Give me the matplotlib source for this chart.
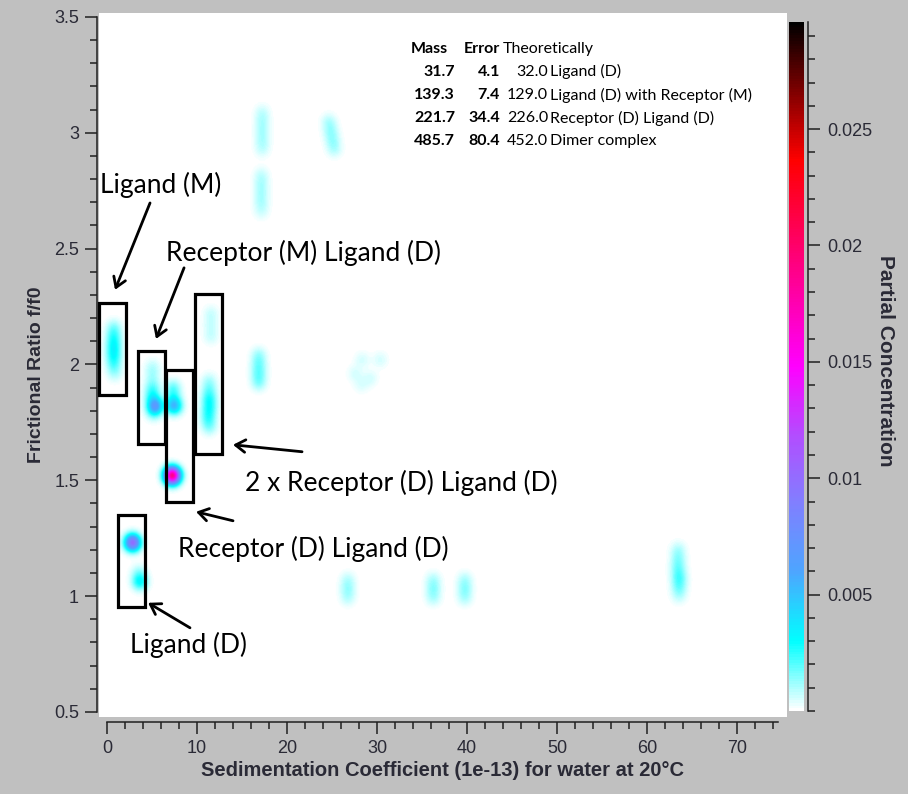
import numpy as np
import matplotlib.pyplot as plt
from matplotlib.colors import LinearSegmentedColormap, Normalize
from matplotlib.patches import Rectangle
from matplotlib.ticker import MultipleLocator

# --- solutes: s (1e-13), f/f0, partial concentration ---
sed = [0.7, 0.7, 0.7, 0.7, 0.7, 0.8,
       5.0, 5.0, 5.0, 5.0, 5.3, 5.1,
       7.3, 7.3, 7.4, 7.2,
       11.5, 11.5, 11.5, 11.3, 11.3, 11.3, 11.3, 11.2, 11.3,
       2.8, 3.6, 3.5,
       17.2, 17.2, 17.2, 17.2, 17.2, 17.1, 17.1, 17.1, 17.1, 17.1,
       24.6, 24.8, 25.0, 25.2,
       16.8, 16.8, 16.8, 16.8,
       27.5, 28.3, 29.2, 30.3, 28.2,
       26.7, 26.7, 26.7, 36.2, 36.2, 36.2, 39.7, 39.7, 39.7,
       63.4, 63.4, 63.4, 63.5, 63.5, 63.5]
ff0 = [2.16, 2.12, 2.08, 2.04, 2.00, 1.96,
       1.99, 1.95, 1.90, 1.86, 1.82, 1.79,
       1.90, 1.86, 1.82, 1.52,
       2.22, 2.17, 2.12, 1.93, 1.89, 1.85, 1.81, 1.77, 1.73,
       1.23, 1.06, 1.10,
       3.09, 3.05, 3.01, 2.97, 2.93, 2.82, 2.78, 2.74, 2.70, 2.66,
       3.05, 3.01, 2.97, 2.93,
       2.04, 2.00, 1.96, 1.92,
       1.96, 2.02, 1.94, 2.02, 1.91,
       1.07, 1.03, 0.99, 1.07, 1.03, 0.99, 1.07, 1.03, 0.99,
       1.20, 1.16, 1.12, 1.08, 1.04, 1.00]
conc = [0.0012, 0.0018, 0.0022, 0.0022, 0.0015, 0.0008,
        0.0007, 0.0008, 0.0015, 0.002, 0.006, 0.001,
        0.0015, 0.0015, 0.005, 0.019,
        0.0006, 0.0006, 0.0006, 0.0008, 0.0012, 0.002, 0.002, 0.0018, 0.0012,
        0.010, 0.003, 0.001,
        0.0006, 0.0007, 0.0007, 0.0007, 0.0006, 0.0006, 0.0007, 0.0007, 0.0007, 0.0005,
        0.0008, 0.0009, 0.0009, 0.0008,
        0.001, 0.0012, 0.0013, 0.0012,
        0.0005, 0.0005, 0.0005, 0.0005, 0.0004,
        0.0007, 0.0009, 0.0007, 0.0008, 0.001, 0.0008, 0.0008, 0.001, 0.0008,
        0.0008, 0.001, 0.0012, 0.0016, 0.0013, 0.0007]

# table of fitted species
masses = [31.7, 139.3, 221.7, 485.7]
errors = [4.1, 7.4, 34.4, 80.4]
theory = [32.0, 129.0, 226.0, 452.0]
species = ['Ligand (D)', 'Ligand (D) with Receptor (M)',
           'Receptor (D) Ligand (D)', 'Dimer complex']

cbar_ticks = [0.005, 0.01, 0.015, 0.02, 0.025]
cbar_labels = ['0.005', '0.01', '0.015', '0.02', '0.025']

# boxes drawn around the groups: (s0, s1, f0, f1)
boxes = [(-0.94, 2.11, 1.869, 2.266),
         (3.44, 6.44, 1.657, 2.058),
         (6.56, 9.56, 1.407, 1.977),
         (9.78, 12.78, 1.614, 2.305),
         (1.22, 4.22, 0.954, 1.351)]
# label text, label position, arrow tail, arrow head
notes = [('Ligand (M)', (-0.78, 2.775), (4.78, 2.697), (0.89, 2.322)),
         ('Receptor (M) Ligand (D)', (6.56, 2.481), (8.56, 2.417), (5.44, 2.110)),
         ('2 x Receptor (D) Ligand (D)', (15.33, 1.489), (21.67, 1.623), (14.0, 1.653)),
         ('Receptor (D) Ligand (D)', (7.89, 1.204), (14.0, 1.325), (9.89, 1.364)),
         ('Ligand (D)', (2.56, 0.790), (9.22, 0.863), (4.56, 0.971))]

XLIM = (-0.89, 75.44)
YLIM = (0.478, 3.517)
VMAX = 0.0296

GRAY = '#c0c0c0'
INK = '#2a2a36'
AXFONT = ['Liberation Sans Narrow', 'Liberation Sans', 'DejaVu Sans']
TICKFONT = ['Liberation Sans', 'DejaVu Sans']
NOTEFONT = ['Lato', 'Open Sans', 'DejaVu Sans']

cmap = LinearSegmentedColormap.from_list('ultrascan', [
    (0.0, (1, 1, 1)),
    (0.1, (0, 1, 1)),
    (0.2, (0.3, 0.65, 1)),
    (0.3, (0.5, 0.5, 1)),
    (0.4, (0.7, 0.3, 1)),
    (0.5, (1, 0, 1)),
    (0.65, (1, 0, 0.5)),
    (0.8, (1, 0, 0)),
    (1.0, (0, 0, 0))])

fig = plt.figure(figsize=(9.08, 7.94), dpi=100, facecolor=GRAY)
ax = fig.add_axes([99 / 908, 77 / 794, 687 / 908, 704 / 794])
ax.set_facecolor('white')

# blurred solute map
gs = np.linspace(XLIM[0], XLIM[1], 700)
gf = np.linspace(YLIM[0], YLIM[1], 720)
S, F = np.meshgrid(gs, gf)
Z = np.zeros_like(S)
for s, f, c in zip(sed, ff0, conc):
    Z += c * np.exp(-0.5 * ((S - s) / 0.6) ** 2 - 0.5 * ((F - f) / 0.025) ** 2)

norm = Normalize(vmin=0, vmax=VMAX)
im = ax.imshow(Z, extent=[XLIM[0], XLIM[1], YLIM[0], YLIM[1]], origin='lower',
               aspect='auto', cmap=cmap, norm=norm, interpolation='bilinear')
ax.set_xlim(*XLIM)
ax.set_ylim(*YLIM)

# axes in the detached Qwt style
for side in ('top', 'right'):
    ax.spines[side].set_visible(False)
ax.spines['left'].set_position(('outward', 1.5))
ax.spines['bottom'].set_position(('outward', 3.6))
ax.spines['left'].set_bounds(0.5, 3.5)
ax.spines['bottom'].set_bounds(0, 74.5)
for side in ('left', 'bottom'):
    ax.spines[side].set_linewidth(1.1)
    ax.spines[side].set_color('#202020')

ax.set_xticks(np.arange(0, 80, 10))
ax.xaxis.set_minor_locator(MultipleLocator(2))
ax.set_yticks(np.arange(0.5, 3.6, 0.5))
ax.set_yticklabels(['0.5', '1', '1.5', '2', '2.5', '3', '3.5'])
ax.yaxis.set_minor_locator(MultipleLocator(0.1))
ax.tick_params(which='major', length=8.6, width=1.1, color='#202020',
               labelsize=13, labelcolor=INK, pad=4.3)
ax.tick_params(which='minor', length=5, width=1.1, color='#202020')
for lab in ax.get_xticklabels() + ax.get_yticklabels():
    lab.set_family(TICKFONT)

ax.set_xlabel('Sedimentation Coefficient (1e-13) for water at 20°C',
              family=AXFONT, fontsize=14.5, fontweight='bold', color=INK)
ax.xaxis.set_label_coords(0.5007, -0.0767)
ax.xaxis.label.set_verticalalignment('center')
ax.set_ylabel('Frictional Ratio f/f0', family=AXFONT, fontsize=14,
              fontweight='bold', color=INK)
ax.yaxis.set_label_coords(-0.0905, 0.486)
ax.yaxis.label.set_verticalalignment('center')

# colour bar
cax = fig.add_axes([789 / 908, 83 / 794, 15 / 908, 689 / 794])
cb = fig.colorbar(im, cax=cax)
cb.outline.set_visible(False)
cax.spines['right'].set_visible(True)
cax.spines['right'].set_position(('outward', 3))
cax.spines['right'].set_linewidth(1.1)
cax.spines['right'].set_color('#202020')
cb.set_ticks(cbar_ticks)
cb.set_ticklabels(cbar_labels)
cax.yaxis.set_minor_locator(MultipleLocator(0.001))
cax.tick_params(which='major', length=8.6, width=1.1, color='#202020',
                labelsize=13, labelcolor=INK, pad=5)
cax.tick_params(which='minor', length=5, width=1.1, color='#202020')
for lab in cax.get_yticklabels():
    lab.set_family(TICKFONT)
cax.set_ylabel('Partial Concentration', family=AXFONT, fontsize=15,
               fontweight='bold', color=INK, rotation=270)
cax.yaxis.set_label_coords(6.4, 0.509)
cax.yaxis.label.set_verticalalignment('center')

# boxes, arrows and labels
for s0, s1, f0, f1 in boxes:
    ax.add_patch(Rectangle((s0, f0), s1 - s0, f1 - f0, fill=False,
                           edgecolor='black', linewidth=2.3, clip_on=False))
for text, pos, tail, head in notes:
    ax.text(pos[0], pos[1], text, family=NOTEFONT, fontsize=19,
            ha='left', va='center', color='black')
    ax.annotate('', xy=head, xytext=tail,
                arrowprops=dict(arrowstyle='->,head_length=0.7,head_width=0.45',
                                color='black', linewidth=2.0,
                                shrinkA=0, shrinkB=0))

# species table
row0 = 3.362
step = 0.0995
ax.text(37.9, row0, 'Mass', family=NOTEFONT, fontsize=11.5, fontweight='bold',
        ha='right', va='center')
ax.text(43.67, row0, 'Error', family=NOTEFONT, fontsize=11.5, fontweight='bold',
        ha='right', va='center')
ax.text(44.0, row0, 'Theoretically', family=NOTEFONT, fontsize=11.5,
        ha='left', va='center')
for i, (m, e, t, name) in enumerate(zip(masses, errors, theory, species)):
    y = row0 - step * (i + 1)
    ax.text(38.67, y, f'{m:.1f}', family=NOTEFONT, fontsize=11.5,
            fontweight='bold', ha='right', va='center')
    ax.text(43.67, y, f'{e:.1f}', family=NOTEFONT, fontsize=11.5,
            fontweight='bold', ha='right', va='center')
    ax.text(49.0, y, f'{t:.1f}', family=NOTEFONT, fontsize=11.5,
            ha='right', va='center')
    ax.text(49.2, y, name, family=NOTEFONT, fontsize=11.5,
            ha='left', va='center')

fig.savefig('out.png', dpi=100, facecolor=GRAY)
